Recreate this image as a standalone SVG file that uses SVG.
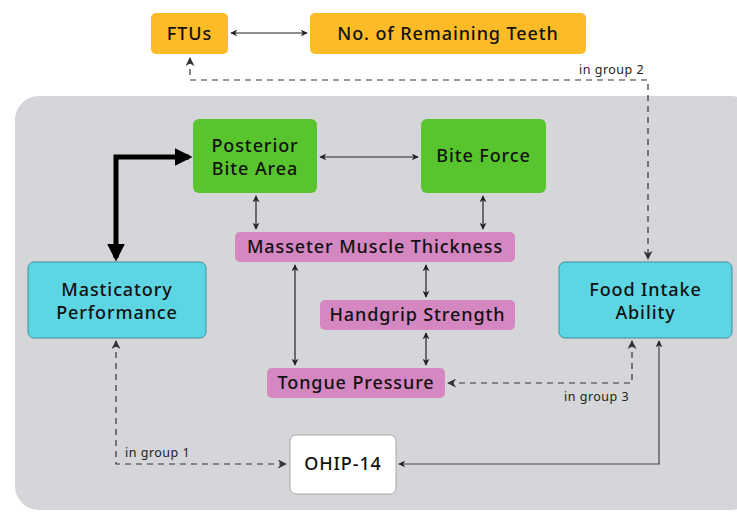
<svg xmlns="http://www.w3.org/2000/svg" width="737" height="513" viewBox="0 0 737 513">
<defs>
<marker id="ah" viewBox="0 0 10 10" refX="9" refY="5" markerWidth="7" markerHeight="7" orient="auto-start-reverse" markerUnits="userSpaceOnUse"><path d="M0,0 L10,5 L0,10 L3,5 Z" fill="#222"/></marker>
<marker id="ahd" viewBox="0 0 10 10" refX="9" refY="5" markerWidth="9" markerHeight="9" orient="auto-start-reverse" markerUnits="userSpaceOnUse"><path d="M0,0 L10,5 L0,10 L3,5 Z" fill="#333"/></marker>
<marker id="ahb" viewBox="0 0 10 10" refX="8" refY="5" markerWidth="18" markerHeight="18" orient="auto-start-reverse" markerUnits="userSpaceOnUse"><path d="M0,0 L10,5 L0,10 Z" fill="#000"/></marker>
<style>
.t{font-family:"Noto Sans","Open Sans",sans-serif;font-size:18px;font-weight:500;letter-spacing:0.9px;fill:#111;text-anchor:middle}
.s{font-family:"Noto Sans","Open Sans",sans-serif;font-size:12.5px;letter-spacing:0.5px;fill:#222}
.or{fill:#FCBB27}
.gr{fill:#58C52E}
.pk{fill:#D487C0}
.cy{fill:#5DD5E2;stroke:#3E8E98;stroke-width:1}
.wh{fill:#fff;stroke:#999;stroke-width:0.8}
.ln{fill:none;stroke:#222;stroke-width:1.2}
.dl{fill:none;stroke:#333;stroke-width:1.2;stroke-dasharray:6,5}
.bl{fill:none;stroke:#000;stroke-width:5}
</style>
</defs>
<rect x="0" y="0" width="737" height="513" fill="#fff"/>
<rect x="15" y="96" width="740" height="414" rx="24" fill="#D5D6D9"/>
<g id="ftus"><rect class="or" x="151" y="13" width="77" height="41" rx="5"/><text class="t" x="189.5" y="40">FTUs</text></g>
<g id="teeth"><rect class="or" x="310" y="13" width="276" height="41" rx="5"/><text class="t" x="448" y="40">No. of Remaining Teeth</text></g>
<g id="pba"><rect class="gr" x="193" y="119" width="124" height="74" rx="6"/><text class="t" x="255" y="152">Posterior</text><text class="t" x="255" y="175">Bite Area</text></g>
<g id="bf"><rect class="gr" x="421" y="119" width="125" height="74" rx="6"/><text class="t" x="483.5" y="162">Bite Force</text></g>
<g id="mmt"><rect class="pk" x="235" y="232" width="280" height="30" rx="5"/><text class="t" x="375" y="253">Masseter Muscle Thickness</text></g>
<g id="hs"><rect class="pk" x="320" y="300" width="195" height="30" rx="5"/><text class="t" x="417.5" y="321">Handgrip Strength</text></g>
<g id="tp"><rect class="pk" x="267" y="368" width="178" height="30" rx="5"/><text class="t" x="356" y="389">Tongue Pressure</text></g>
<g id="mp"><rect class="cy" x="28" y="262" width="178" height="76" rx="6"/><text class="t" x="117" y="296">Masticatory</text><text class="t" x="117" y="319">Performance</text></g>
<g id="fia"><rect class="cy" x="559" y="262" width="173" height="76" rx="6"/><text class="t" x="645.5" y="296">Food Intake</text><text class="t" x="645.5" y="319">Ability</text></g>
<g id="ohip"><rect class="wh" x="290" y="435" width="106" height="59" rx="6"/><text class="t" x="343" y="470">OHIP-14</text></g>
<g id="connectors">
<line class="ln" x1="231" y1="33" x2="307" y2="33" marker-start="url(#ah)" marker-end="url(#ah)"/>
<path class="dl" d="M190,58 V80 H648 V259" marker-start="url(#ahd)" marker-end="url(#ahd)"/>
<line class="ln" x1="320" y1="157" x2="418" y2="157" marker-start="url(#ah)" marker-end="url(#ah)"/>
<line class="ln" x1="256" y1="196" x2="256" y2="229" marker-start="url(#ah)" marker-end="url(#ah)"/>
<line class="ln" x1="483" y1="196" x2="483" y2="229" marker-start="url(#ah)" marker-end="url(#ah)"/>
<line class="ln" x1="426" y1="265" x2="426" y2="297" marker-start="url(#ah)" marker-end="url(#ah)"/>
<line class="ln" x1="295" y1="265" x2="295" y2="365" marker-start="url(#ah)" marker-end="url(#ah)"/>
<line class="ln" x1="426" y1="333" x2="426" y2="365" marker-start="url(#ah)" marker-end="url(#ah)"/>
<path class="bl" d="M116,258 V157 H189" marker-start="url(#ahb)" marker-end="url(#ahb)"/>
<path class="dl" d="M116,341 V464 H286" marker-start="url(#ahd)" marker-end="url(#ahd)"/>
<path class="ln" d="M659,341 V464 H399" marker-start="url(#ah)" marker-end="url(#ah)" style="stroke:#444"/>
<path class="dl" d="M632,341 V383 H448" marker-start="url(#ahd)" marker-end="url(#ahd)"/>
<text class="s" x="579" y="74">in group 2</text>
<text class="s" x="125" y="457">in group 1</text>
<text class="s" x="564" y="401">in group 3</text>
</g>
</svg>
